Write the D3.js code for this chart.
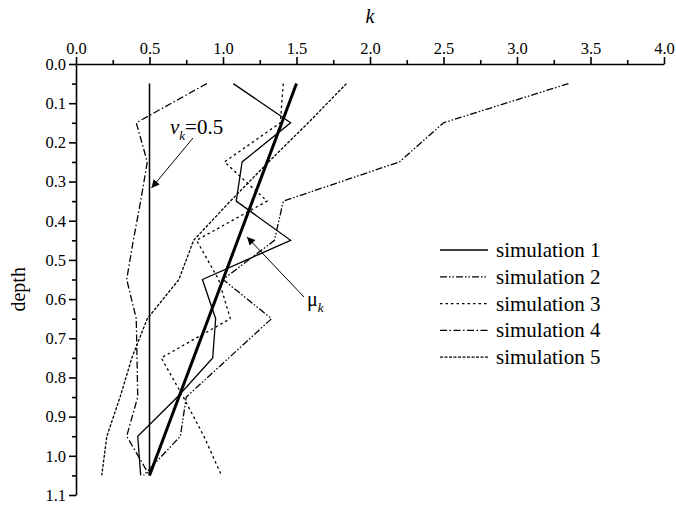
<!DOCTYPE html>
<html>
<head>
<meta charset="utf-8">
<script src="https://cdn.jsdelivr.net/npm/d3@7"></script>
</head>
<body style="margin:0;background:#fff">
<div id="chart"></div>
<script>
// depth levels (y) where each series is sampled
const depths = [0.05, 0.15, 0.25, 0.35, 0.45, 0.55, 0.65, 0.75, 0.85, 0.95, 1.05];

// k values
const sim1 = [1.07, 1.46, 1.13, 1.09, 1.46, 0.86, 0.95, 0.93, 0.69, 0.42, 0.44];
const sim2 = [3.35, 2.50, 2.20, 1.41, 1.35, 1.00, 1.33, 1.04, 0.75, 0.71, 0.46];
const sim3 = [1.41, 1.39, 1.01, 1.30, 0.82, 0.97, 1.05, 0.58, 0.73, 0.87, 0.99];
const sim4 = [0.89, 0.41, 0.485, 0.44, 0.39, 0.345, 0.41, 0.415, 0.42, 0.345, 0.50];
const sim5 = [1.84, 1.58, 1.31, 1.05, 0.80, 0.70, 0.485, 0.38, 0.30, 0.21, 0.175];
const meanK = [1.5, 1.4, 1.3, 1.2, 1.1, 1.0, 0.9, 0.8, 0.7, 0.6, 0.5];
const nuK = [0.5, 0.5, 0.5, 0.5, 0.5, 0.5, 0.5, 0.5, 0.5, 0.5, 0.5];

const xTicks = [0, 0.5, 1, 1.5, 2, 2.5, 3, 3.5, 4];
const yTicks = [0, 0.1, 0.2, 0.3, 0.4, 0.5, 0.6, 0.7, 0.8, 0.9, 1.0, 1.1];

const series = [
  { name: 'simulation 1', values: sim1, dash: null },
  { name: 'simulation 2', values: sim2, dash: '7,2,1.5,2,1.5,2' },
  { name: 'simulation 3', values: sim3, dash: '2.5,3' },
  { name: 'simulation 4', values: sim4, dash: '7,2.5,1.5,2.5' },
  { name: 'simulation 5', values: sim5, dash: '3,1.5' }
];

const FONT = "'Liberation Serif', 'Times New Roman', Times, 'DejaVu Serif', serif";
const width = 676, height = 506;
const margin = { top: 64, left: 76 };
const plotW = 588, plotH = 431;

const svg = d3.select('#chart').append('svg')
  .attr('width', width)
  .attr('height', height)
  .style('font-family', FONT);

const defs = svg.append('defs');
defs.append('marker')
  .attr('id', 'arrow')
  .attr('viewBox', '0 0 10 10')
  .attr('refX', 10).attr('refY', 5)
  .attr('markerWidth', 11).attr('markerHeight', 8)
  .attr('markerUnits', 'userSpaceOnUse')
  .attr('orient', 'auto')
  .append('path')
  .attr('d', 'M0,0 L10,5 L0,10 Z')
  .attr('fill', '#000');

const x = d3.scaleLinear().domain([0, 4]).range([margin.left, margin.left + plotW]);
const y = d3.scaleLinear().domain([0, 1.1]).range([margin.top, margin.top + plotH]);

function styleAxis(g) {
  g.attr('font-family', FONT).attr('font-size', 16.5);
  g.selectAll('line, path').attr('stroke', '#000').attr('stroke-width', 1.6);
  g.selectAll('text').attr('fill', '#000').style('font-family', FONT);
}

// minor ticks first
svg.append('g')
  .attr('transform', `translate(0,${margin.top})`)
  .call(d3.axisTop(x).tickValues(d3.range(0.25, 4, 0.5)).tickSize(4).tickFormat(''))
  .call(styleAxis)
  .select('.domain').remove();
svg.append('g')
  .attr('transform', `translate(${margin.left},0)`)
  .call(d3.axisLeft(y).tickValues(d3.range(0.05, 1.1, 0.1)).tickSize(4).tickFormat(''))
  .call(styleAxis)
  .select('.domain').remove();

// major axes
svg.append('g')
  .attr('transform', `translate(0,${margin.top})`)
  .call(d3.axisTop(x).tickValues(xTicks).tickSize(7).tickSizeOuter(0).tickPadding(3).tickFormat(d3.format('.1f')))
  .call(styleAxis);
svg.append('g')
  .attr('transform', `translate(${margin.left},0)`)
  .call(d3.axisLeft(y).tickValues(yTicks).tickSize(7).tickSizeOuter(0).tickPadding(3).tickFormat(d3.format('.1f')))
  .call(styleAxis);

// axis titles
svg.append('text')
  .attr('x', x(2)).attr('y', 23)
  .attr('text-anchor', 'middle')
  .attr('font-size', 20)
  .attr('font-style', 'italic')
  .text('k');
svg.append('text')
  .attr('transform', `translate(25,${y(0.575)}) rotate(-90)`)
  .attr('text-anchor', 'middle')
  .attr('font-size', 20)
  .text('depth');

const line = d3.line()
  .x(d => x(d[0]))
  .y(d => y(d[1]));

// reference lines
svg.append('path')
  .datum(nuK.map((k, i) => [k, depths[i]]))
  .attr('d', line)
  .attr('fill', 'none')
  .attr('stroke', '#000')
  .attr('stroke-width', 1.5);

series.forEach(s => {
  svg.append('path')
    .datum(s.values.map((k, i) => [k, depths[i]]))
    .attr('d', line)
    .attr('fill', 'none')
    .attr('stroke', '#000')
    .attr('stroke-width', 1.3)
    .attr('stroke-dasharray', s.dash);
});

svg.append('path')
  .datum(meanK.map((k, i) => [k, depths[i]]))
  .attr('d', line)
  .attr('fill', 'none')
  .attr('stroke', '#000')
  .attr('stroke-width', 3);

// annotations
svg.append('line')
  .attr('x1', 193).attr('y1', 138)
  .attr('x2', x(0.5) + 2).attr('y2', 188)
  .attr('stroke', '#000').attr('stroke-width', 1)
  .attr('marker-end', 'url(#arrow)');
const nuLabel = svg.append('text').attr('x', 170).attr('y', 134).attr('font-size', 21);
nuLabel.append('tspan').attr('font-style', 'italic').text('v');
nuLabel.append('tspan').attr('font-style', 'italic').attr('font-size', 13).attr('dy', 6).text('k');
nuLabel.append('tspan').attr('dy', -6).text('=0.5');

svg.append('line')
  .attr('x1', 304).attr('y1', 297)
  .attr('x2', 247).attr('y2', 237)
  .attr('stroke', '#000').attr('stroke-width', 1)
  .attr('marker-end', 'url(#arrow)');
const muLabel = svg.append('text').attr('x', 307).attr('y', 306).attr('font-size', 20);
muLabel.append('tspan').text('μ');
muLabel.append('tspan').attr('font-style', 'italic').attr('font-size', 13).attr('dy', 6).text('k');

// legend
const legend = svg.append('g').attr('transform', 'translate(440,250)');
series.forEach((s, i) => {
  const row = legend.append('g').attr('transform', `translate(0,${i * 26.8})`);
  row.append('line')
    .attr('x1', 0).attr('x2', 48)
    .attr('stroke', '#000')
    .attr('stroke-width', 1.3)
    .attr('stroke-dasharray', s.dash);
  row.append('text')
    .attr('x', 56).attr('y', 7)
    .attr('font-size', 21)
    .text(s.name);
});
</script>
</body>
</html>
